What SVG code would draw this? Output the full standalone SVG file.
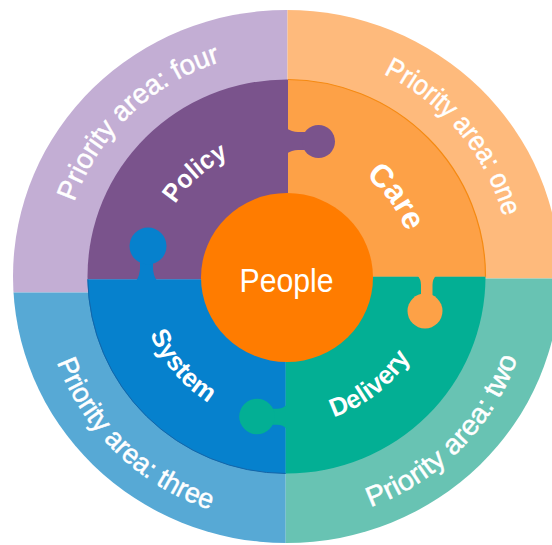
<svg xmlns="http://www.w3.org/2000/svg" width="552" height="545" viewBox="0 0 552 545">
  <style>
    .lbl { fill: #ffffff; font-family: "Liberation Sans", Arial, sans-serif; }
    .outer { font-size: 28px; stroke: #ffffff; stroke-width: 0.5px; }
    .inner { font-size: 26px; font-weight: bold; }
  </style>
  <defs>
    <clipPath id="clip-outer"><ellipse cx="286.5" cy="276.5" rx="273.5" ry="266.5"/></clipPath>
    <clipPath id="clip-inner"><ellipse cx="286.5" cy="276.5" rx="199" ry="197"/></clipPath>
    <!-- text baselines -->
    <path id="arc-four" d="M80.6,367.8 A225,225 0 0 1 385.8,75.1"/>
    <path id="arc-one" d="M209.5,65.6 A225,225 0 0 1 481.4,389.5"/>
    <path id="arc-two" d="M184.1,499.6 A245,245 0 0 0 508.0,172.3"/>
    <path id="arc-three" d="M62.5,177.8 A245,245 0 0 0 394.2,497.0"/>
    <path id="arc-policy" d="M162.6,325.3 A133,133 0 0 1 350.4,160.3"/>
    <path id="arc-care" d="M250.6,154.2 A128,128 0 0 1 393.0,348.0"/>
    <path id="arc-system" d="M157.8,203.9 A148,148 0 0 0 338.1,415.7"/>
    <path id="arc-delivery" d="M207.6,402.2 A148,148 0 0 0 427.4,231.8"/>
  </defs>

  <rect width="552" height="545" fill="#ffffff"/>

  <!-- outer ring: priority areas -->
  <g id="priority-four" clip-path="url(#clip-outer)">
    <rect x="0" y="0" width="287.5" height="292.5" fill="#C3AED4"/>
  </g>
  <g id="priority-one" clip-path="url(#clip-outer)">
    <rect x="287.5" y="0" width="270" height="278.5" fill="#FEBA7C"/>
  </g>
  <g id="priority-three" clip-path="url(#clip-outer)">
    <rect x="0" y="292.5" width="285.7" height="260" fill="#57A9D5"/>
  </g>
  <g id="priority-two" clip-path="url(#clip-outer)">
    <rect x="285.7" y="278.5" width="270" height="270" fill="#68C3B3"/>
  </g>

  <!-- inner ring: puzzle pieces -->
  <g id="policy">
    <rect x="0" y="0" width="288" height="279.3" fill="#7A538C" clip-path="url(#clip-inner)"/>
  </g>
  <g id="care">
    <rect x="288" y="0" width="270" height="276.7" fill="#FDA147" clip-path="url(#clip-inner)"/>
    <path d="M288,79.5 A199,197 0 0 1 485.5,276.7" fill="none" stroke="#F58A12" stroke-width="1.2"/>
  </g>
  <g id="system">
    <rect x="0" y="279.3" width="285.7" height="270" fill="#0681CD" clip-path="url(#clip-inner)"/>
    <path d="M87.8,279.3 A199,197 0 0 0 285.7,473.5" fill="none" stroke="#1465A8" stroke-width="1"/>
  </g>
  <g id="delivery">
    <rect x="285.7" y="276.7" width="270" height="270" fill="#03AF94" clip-path="url(#clip-inner)"/>
  </g>

  <!-- puzzle tabs: neck with rounded shoulders, then a round knob -->
  <g id="tab-policy" fill="#7A538C">
    <path d="M286,128 Q292,132 298,132 L306,132 L306,150 L298,150 Q292,150 286,154 Z"/>
    <circle cx="318.5" cy="141.5" r="16.5"/>
  </g>
  <g id="tab-system" fill="#0681CD">
    <path d="M136,281 Q140,275 140,268 L140,258 L153,258 L153,268 Q153,275 157,281 Z"/>
    <circle cx="148" cy="246" r="18.5"/>
  </g>
  <g id="tab-care" fill="#FDA147">
    <path d="M417,275 Q421,279 421,285 L421,298 L432.5,298 L432.5,285 Q432.5,279 436.5,275 Z"/>
    <circle cx="425" cy="311" r="17.5"/>
  </g>
  <g id="tab-delivery" fill="#03AF94">
    <path d="M287,404.5 Q283,408.7 277,408.7 L268,408.7 L268,424.7 L277,424.7 Q283,424.7 287,429 Z"/>
    <circle cx="257" cy="416.5" r="17.8"/>
  </g>

  <!-- hub -->
  <g id="people">
    <ellipse cx="287" cy="277.5" rx="86" ry="84.5" fill="#FF7C00"/>
    <text class="lbl" x="286.5" y="292" font-size="34" text-anchor="middle" textLength="94" lengthAdjust="spacingAndGlyphs">People</text>
  </g>

  <!-- curved labels -->
  <g id="labels">
    <text class="lbl outer"><textPath href="#arc-four" startOffset="50%" text-anchor="middle" textLength="210" lengthAdjust="spacingAndGlyphs">Priority area: four</textPath></text>
    <text class="lbl outer"><textPath href="#arc-one" startOffset="50%" text-anchor="middle" textLength="192" lengthAdjust="spacingAndGlyphs">Priority area: one</textPath></text>
    <text class="lbl outer"><textPath href="#arc-two" startOffset="50%" text-anchor="middle" textLength="216" lengthAdjust="spacingAndGlyphs">Priority area: two</textPath></text>
    <text class="lbl outer"><textPath href="#arc-three" startOffset="50%" text-anchor="middle" textLength="220" lengthAdjust="spacingAndGlyphs">Priority area: three</textPath></text>
    <text class="lbl inner"><textPath href="#arc-policy" startOffset="50%" text-anchor="middle" textLength="72" lengthAdjust="spacingAndGlyphs">Policy</textPath></text>
    <text class="lbl inner" style="font-size:32px"><textPath href="#arc-care" startOffset="50%" text-anchor="middle" textLength="70" lengthAdjust="spacingAndGlyphs">Care</textPath></text>
    <text class="lbl inner"><textPath href="#arc-system" startOffset="50%" text-anchor="middle" textLength="92" lengthAdjust="spacingAndGlyphs">System</textPath></text>
    <text class="lbl inner"><textPath href="#arc-delivery" startOffset="50%" text-anchor="middle" textLength="99" lengthAdjust="spacingAndGlyphs">Delivery</textPath></text>
  </g>
</svg>
